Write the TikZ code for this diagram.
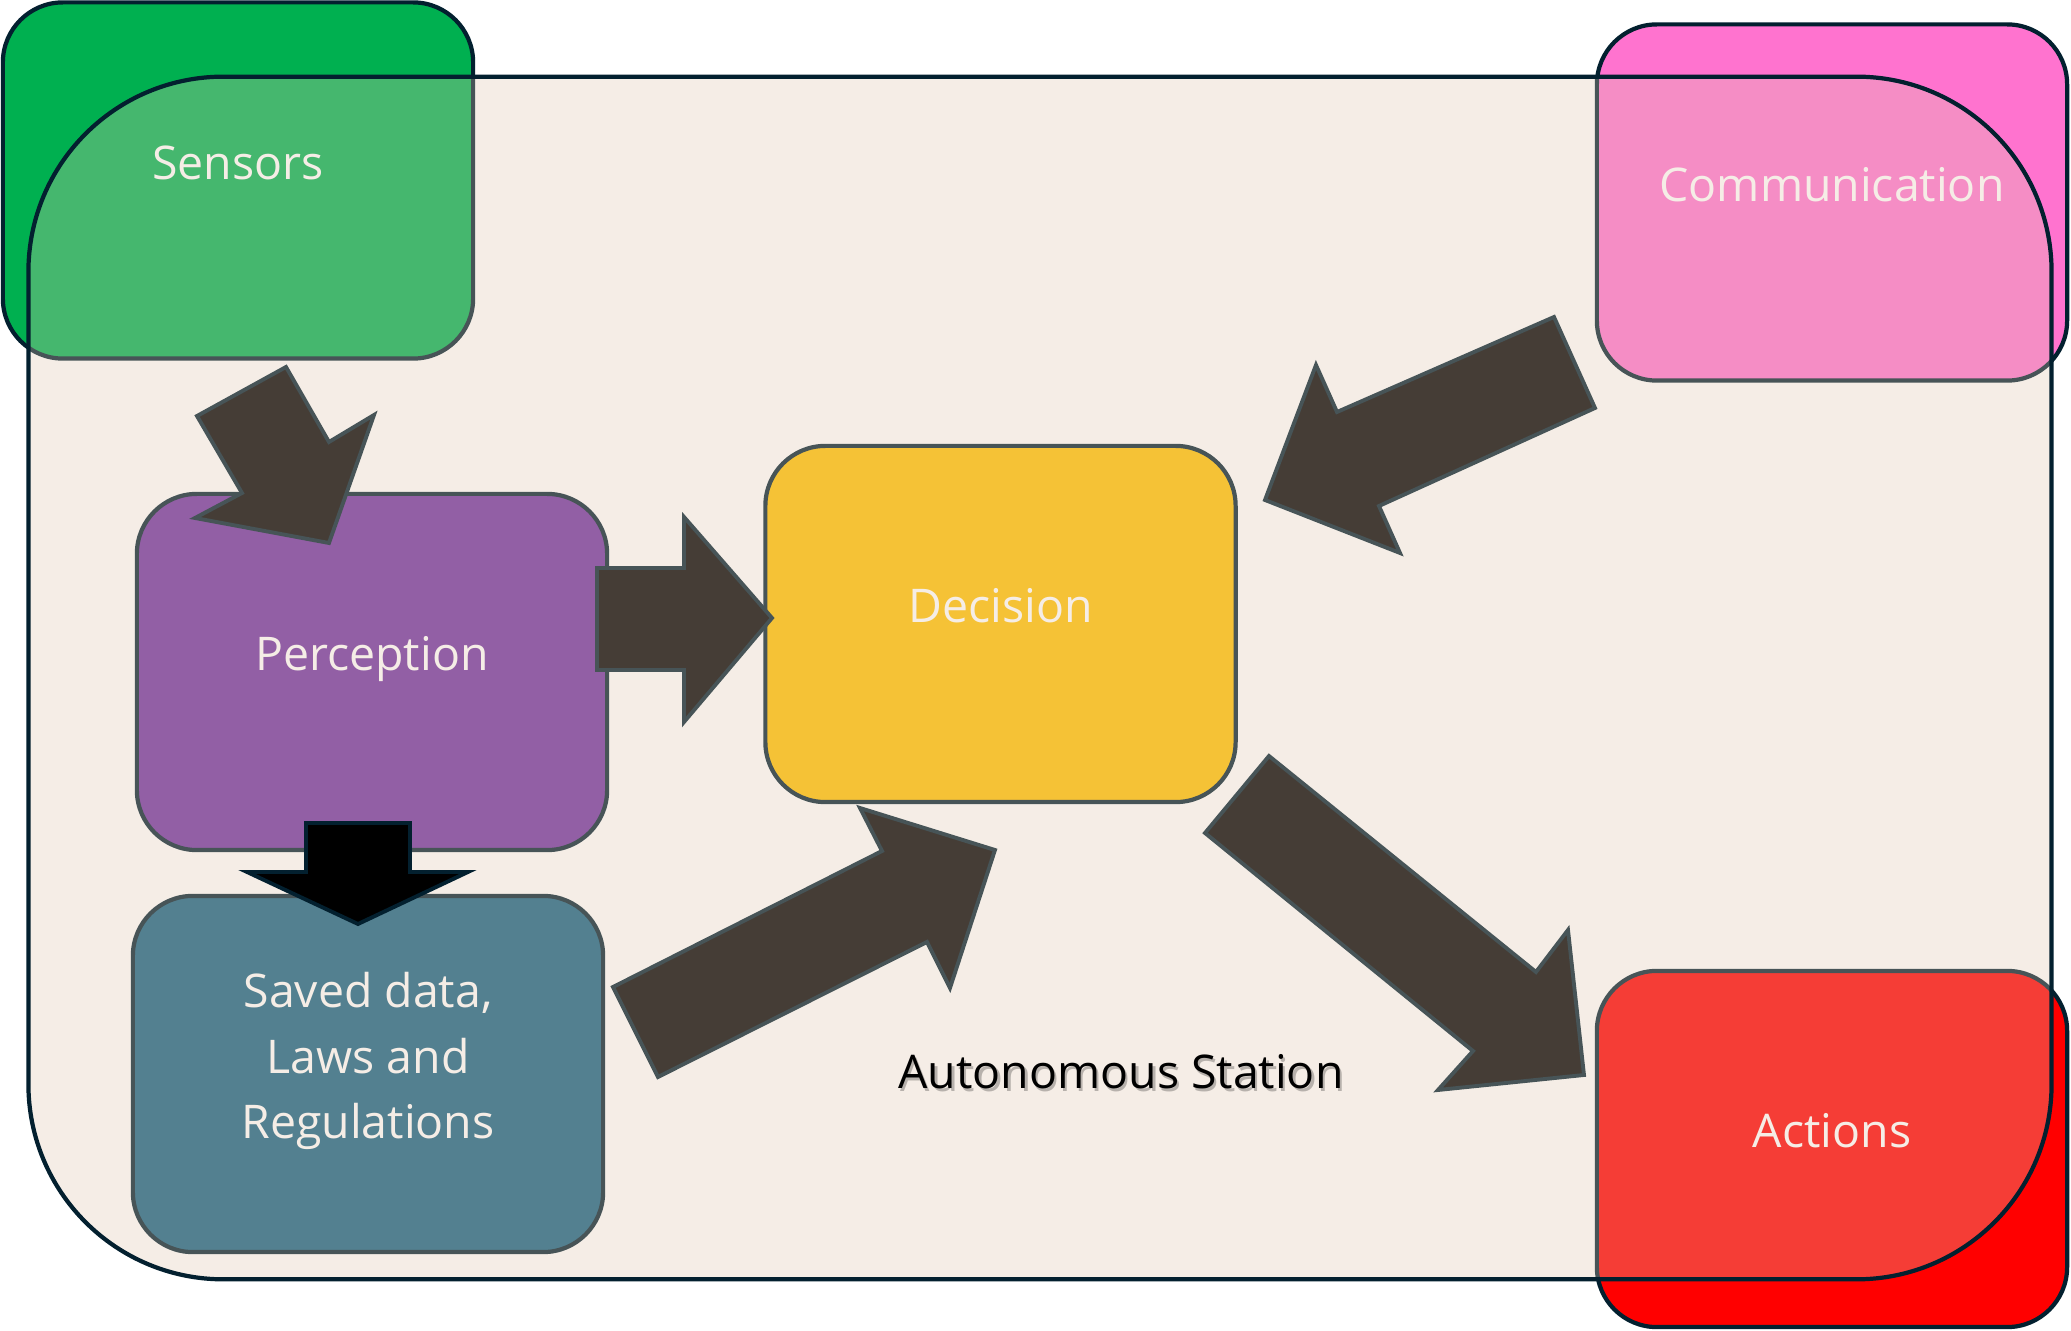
\documentclass[tikz,border=0pt]{standalone}
\usepackage{fontspec}
\setmainfont{Open Sans}
\definecolor{dk}{HTML}{03202F}
\definecolor{grn}{HTML}{00B050}
\definecolor{pnk}{HTML}{FF73CF}
\definecolor{rd}{HTML}{FF0000}
\definecolor{prp}{HTML}{7030A0}
\definecolor{ylw}{HTML}{FFC000}
\definecolor{tl}{HTML}{156082}
\definecolor{stn}{HTML}{DFC8B1}
\begin{document}
\begin{tikzpicture}[x=0.01cm,y=-0.01cm,
  box/.style={draw=dk, line width=1.2pt, rounded corners=0.6cm, minimum width=4.7cm, minimum height=3.56cm, inner sep=0pt},
  lblbase/.style={text=white, font=\fontsize{13.2}{18.7}\selectfont, align=center, inner sep=0pt},
  lbl/.style={lblbase, text height=9.4pt, text depth=0pt},
  blk/.style={fill=black, draw=dk, line width=1.1pt, line join=miter}]
\useasboundingbox[fill=white] (0,0) rectangle (2071,1331);
% outer boxes
\node[box, fill=grn] (sens) at (238,180.5) {};
\node[box, fill=pnk] (comm) at (1832,202.5) {};
\node[box, fill=rd] (act) at (1832,1149) {};
% inner boxes
\node[box, fill=prp] (perc) at (372,672) {};
\node[box, fill=ylw] (dec) at (1000.5,624) {};
\node[box, fill=tl] (saved) at (368,1074) {};
% labels
\node[lbl] (sensT) at ([yshift=0.18cm]sens.center) {Sensors};
\node[lbl] (commT) at ([yshift=0.18cm]comm.center) {Communication};
\node[lbl] (actT) at ([yshift=0.18cm]act.center) {Actions};
\node[lbl] (percT) at ([yshift=0.18cm]perc.center) {Perception};
\node[lbl] (decT) at ([yshift=0.18cm]dec.center) {Decision};
\node[lblbase] (savedT) at ([yshift=0.13cm]saved.center) {Saved data,\\Laws and\\Regulations};
% block arrows (under the station overlay)
\draw[blk] (286,367) -- (329,442) -- (374,415) -- (329,543) -- (195,518) -- (242,493) -- (197,416) -- cycle;
\draw[blk] (597,568) -- (684,568) -- (684,517) -- (772,618) -- (684,722) -- (684,670) -- (597,670) -- cycle;
\draw[blk] (1554,317) -- (1595,408) -- (1379,506) -- (1400,553) -- (1265,500) -- (1316,365) -- (1337,412) -- cycle;
\draw[blk] (1269,756) -- (1536,972) -- (1568,930) -- (1584,1075) -- (1438,1090) -- (1473,1051) -- (1205,833) -- cycle;
\draw[blk] (613,987) -- (882,851) -- (860,808) -- (995,850) -- (950,988) -- (927,942) -- (658,1077) -- cycle;
% station overlay
\node[draw=dk, line width=1.2pt, fill=stn, fill opacity=0.31, rounded corners=1.95cm,
      minimum width=20.22cm, minimum height=12.02cm, inner sep=0pt] (station) at (1040,678) {};
% down arrow on top
\draw[blk] (306,823) -- (410,823) -- (410,872) -- (468,872) -- (358,924) -- (247,872) -- (306,872) -- cycle;
% station title
\node[lbl, text=black, text opacity=0.25] (titleS) at (1123.5,1074.5) {Autonomous Station};
\node[lbl, text=black] (title) at (1121,1072) {Autonomous Station};
\end{tikzpicture}
\end{document}
